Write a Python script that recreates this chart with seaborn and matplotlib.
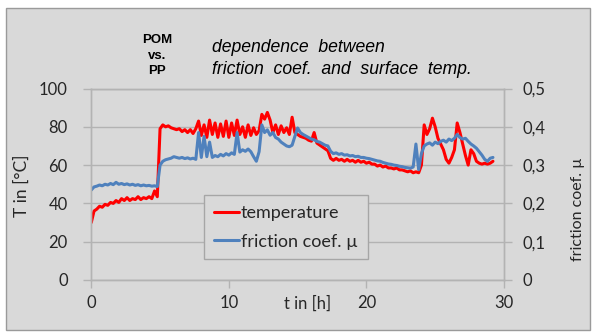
import numpy as np
import pandas as pd
import matplotlib
matplotlib.use('Agg')
import matplotlib.pyplot as plt
from matplotlib.patches import Rectangle
import seaborn as sns

# readings every 0.2 h
sample_step_h = 0.2

temp_c = [
    30, 36, 37, 38.5, 38, 39.5, 39, 40.5, 40, 41.5,
    40.5, 42.5, 41.5, 43, 41.5, 42.5, 42, 43.5, 42, 43,
    42.5, 43.5, 42.5, 46.5, 43.5, 79, 81, 80, 80.5, 79.5,
    79, 78.5, 79, 77.5, 78.5, 77, 78.5, 76.5, 79, 83,
    75.5, 81, 74.5, 83.5, 76, 82, 74.5, 81.5, 75, 83,
    74.5, 82, 75.5, 83.5, 76, 80, 74.5, 81, 75.5, 79.5,
    76, 78, 86.5, 84, 87.5, 83.5, 77, 81, 76, 80.5,
    77, 79.5, 76, 85, 77, 76, 75, 74.5, 74, 73,
    72.5, 77, 71.5, 70.5, 69.5, 68.5, 67.5, 63.5, 62.5, 63.5,
    62.5, 63, 62, 63, 62, 62.5, 61.5, 62.5, 61.5, 62,
    61, 61.5, 60.5, 60.5, 59.5, 60, 59, 59.5, 58.5, 58.5,
    58, 58.5, 57.5, 57.5, 57, 56.5, 57, 56, 56.5, 56,
    60, 81, 76, 79, 84.5, 80, 74, 71, 68, 63,
    61, 64, 68, 82, 77, 71, 65, 60, 68, 66,
    62, 61, 60.5, 61, 60.5, 61, 62,
]

friction_mu = [
    0.235, 0.243, 0.245, 0.248, 0.246, 0.250, 0.248, 0.252, 0.249, 0.255,
    0.250, 0.252, 0.249, 0.251, 0.248, 0.250, 0.247, 0.249, 0.246, 0.248,
    0.246, 0.247, 0.245, 0.246, 0.244, 0.300, 0.310, 0.314, 0.316, 0.318,
    0.322, 0.320, 0.318, 0.320, 0.317, 0.319, 0.316, 0.318, 0.315, 0.385,
    0.320, 0.375, 0.322, 0.360, 0.320, 0.325, 0.322, 0.328, 0.324, 0.330,
    0.326, 0.332, 0.328, 0.385, 0.334, 0.340, 0.336, 0.342, 0.335, 0.322,
    0.310, 0.335, 0.405, 0.385, 0.392, 0.378, 0.385, 0.372, 0.368, 0.360,
    0.355, 0.350, 0.348, 0.352, 0.375, 0.397, 0.385, 0.380, 0.376, 0.372,
    0.368, 0.366, 0.362, 0.360, 0.356, 0.352, 0.350, 0.336, 0.330, 0.332,
    0.328, 0.330, 0.326, 0.327, 0.324, 0.325, 0.322, 0.323, 0.320, 0.320,
    0.318, 0.317, 0.315, 0.313, 0.311, 0.310, 0.307, 0.305, 0.303, 0.302,
    0.300, 0.299, 0.297, 0.296, 0.294, 0.293, 0.292, 0.295, 0.355, 0.288,
    0.330, 0.350, 0.355, 0.358, 0.352, 0.360, 0.356, 0.362, 0.365, 0.360,
    0.368, 0.364, 0.370, 0.380, 0.372, 0.368, 0.370, 0.362, 0.355, 0.350,
    0.344, 0.335, 0.326, 0.315, 0.310, 0.318, 0.320,
]

temp_ticks = [0, 20, 40, 60, 80, 100]
mu_ticks = [0, 0.1, 0.2, 0.3, 0.4, 0.5]
mu_tick_labels = ['0', '0,1', '0,2', '0,3', '0,4', '0,5']
hour_ticks = [0, 10, 20, 30]

hours = np.round(np.arange(len(temp_c)) * sample_step_h, 1)
df = pd.DataFrame({'t': hours, 'temperature': temp_c, 'friction': friction_mu})

sns.set_style('white')
plt.rcParams['font.family'] = ['Lato', 'DejaVu Sans']

bg = '#d9d9d9'
grid_c = '#b3b3b3'
text_c = '#262626'

fig = plt.figure(figsize=(5.95, 3.35), dpi=100, facecolor='white')
frame = Rectangle((6 / 595, 1 - 330 / 335), 584 / 595, 322 / 335,
                  transform=fig.transFigure, facecolor=bg, edgecolor='#9a9a9a',
                  linewidth=1, zorder=-1)
fig.add_artist(frame)

ax = fig.add_axes([0.1534, 0.1642, 0.6936, 0.5716])
ax.set_facecolor('none')
ax2 = ax.twinx()
ax2.set_facecolor('none')

sns.lineplot(data=df, x='t', y='temperature', ax=ax, color='#ff0000',
             linewidth=2.2, estimator=None, label='temperature', legend=False)
sns.lineplot(data=df, x='t', y='friction', ax=ax2, color='#4f81bd',
             linewidth=2.2, estimator=None, label='friction coef. µ', legend=False)

ax.set_xlim(0, 30)
ax.set_ylim(0, 100)
ax2.set_ylim(0, 0.5)
ax.set_xticks(hour_ticks)
ax.set_yticks(temp_ticks)
ax2.set_yticks(mu_ticks)
ax2.set_yticklabels(mu_tick_labels)

ax.yaxis.grid(True, color=grid_c, linewidth=1)
ax.xaxis.grid(False)
ax2.grid(False)
for a in (ax, ax2):
    for s in a.spines.values():
        s.set_color(grid_c)
        s.set_linewidth(1)

ax.tick_params(axis='y', length=6, width=1, color=grid_c, labelsize=12,
               labelcolor=text_c, pad=11, left=True)
ax.tick_params(axis='x', length=6, width=1, color=grid_c, labelsize=12,
               labelcolor=text_c, pad=5, bottom=True)
ax2.tick_params(axis='y', length=6, width=1, color=grid_c, labelsize=12,
                labelcolor=text_c, pad=7, right=True)

ax.set_ylabel('T in [°C]', fontsize=12.5, color=text_c)
ax.yaxis.set_label_coords(-0.15, 0.49)
ax2.set_ylabel('friction coef. µ', fontsize=11.5, color=text_c)
ax2.yaxis.set_label_coords(1.163, 0.37)
ax.set_xlabel('t in [h]', fontsize=12, color=text_c)
ax.xaxis.set_label_coords(0.523, -0.08)

h1, l1 = ax.get_legend_handles_labels()
h2, l2 = ax2.get_legend_handles_labels()
leg = ax2.legend(h1 + h2, l1 + l2, loc='upper left', bbox_to_anchor=(0.273, 0.444),
                 borderaxespad=0, fontsize=13, frameon=True, fancybox=False,
                 framealpha=1, facecolor=bg, edgecolor='#a6a6a6', handlelength=1.4,
                 handletextpad=0.1, labelspacing=0.7, borderpad=0.55)
leg.get_frame().set_linewidth(1)
for txt in leg.get_texts():
    txt.set_color(text_c)

fig.text(157 / 595, 1 - 40 / 335, 'POM', ha='center', va='center',
         fontsize=9.5, fontweight='bold', family='Liberation Sans', color='black')
fig.text(157 / 595, 1 - 56 / 335, 'vs.', ha='center', va='center',
         fontsize=9.5, fontweight='bold', family='Liberation Sans', color='black')
fig.text(157 / 595, 1 - 71 / 335, 'PP', ha='center', va='center',
         fontsize=9.5, fontweight='bold', family='Liberation Sans', color='black')
fig.text(212 / 595, 1 - 47 / 335, 'dependence  between', ha='left', va='center',
         fontsize=12.7, style='italic', family='Liberation Sans', color='black')
fig.text(212 / 595, 1 - 70 / 335, 'friction  coef.  and  surface  temp.', ha='left',
         va='center', fontsize=12.7, style='italic', family='Liberation Sans', color='black')

fig.savefig('out.png', dpi=100, facecolor='white')
